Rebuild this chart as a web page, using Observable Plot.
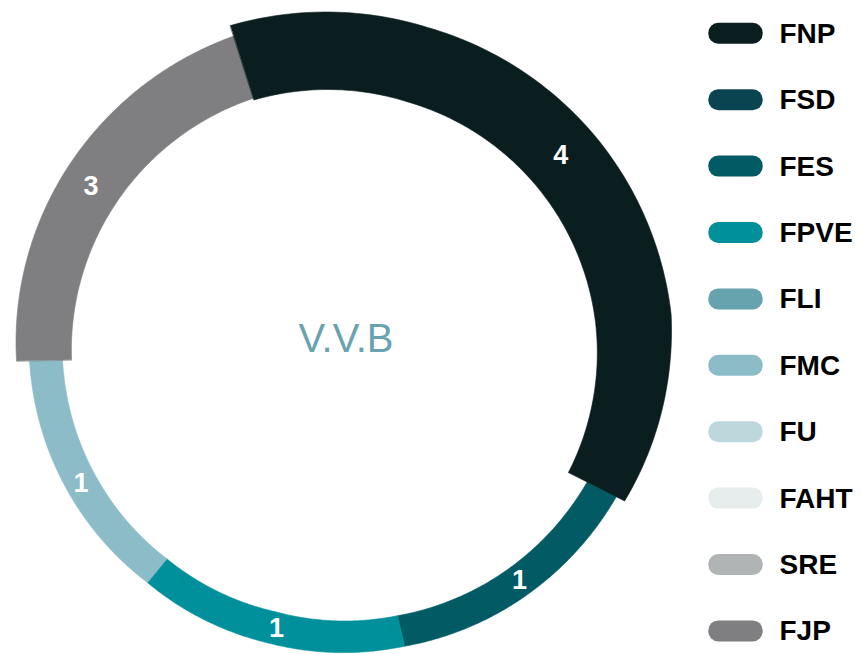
<!DOCTYPE html>
<html>
<head>
<meta charset="utf-8">
<script src="https://cdn.jsdelivr.net/npm/d3@7"></script>
<script src="https://cdn.jsdelivr.net/npm/@observablehq/plot@0.6"></script>
<style>
  html, body { margin: 0; padding: 0; background: #ffffff; overflow: hidden; }
  #chart svg { display: block; }
  #chart g[aria-label="legend-labels"] text { letter-spacing: 1.3px; }
</style>
</head>
<body>
<div id="chart"></div>
<script>
// ---- data ----
const categories = ["FNP", "FSD", "FES", "FPVE", "FLI", "FMC", "FU", "FAHT", "SRE", "FJP"];
const categoryColors = ["#0a1d1f", "#0b4451", "#025b64", "#00909c", "#67a3af", "#8cbcc8", "#bdd8dc", "#e7edec", "#b1b4b5", "#7f7f81"];
const sliceNames = ["FNP", "FES", "FPVE", "FMC", "FJP"];
const sliceValues = [4, 1, 1, 1, 3];
const sliceArcShares = [134.3, 49.7, 52.9, 49.4, 73.6]; // angular share of each slice
const centerTitle = "V.V.B";

// ---- geometry / styling ----
const W = 862, H = 654;
const CX = 334, CY = 354;
const START_DEG = -17.55;
const LABEL_ANGLE_SHIFT = -1.0 * Math.PI / 180;
const ringRadii = {
  FNP:  { inner: [267, 263, 263, 263, 262], outer: [345, 340, 340, 339, 325] },
  FES:  { inner: [283, 268.7], outer: [315.7, 300] },
  FPVE: { inner: [268.7, 264, 264.3], outer: [300, 296, 295] },
  FMC:  { inner: [264.3, 272], outer: [295, 305] },
  FJP:  { inner: [263, 268.7], outer: [318, 334] }
};
const drawOrder = ["FES", "FPVE", "FMC", "FJP", "FNP"];

function interp(arr, t) {
  if (arr.length === 1) return arr[0];
  const p = t * (arr.length - 1);
  const i = Math.min(arr.length - 2, Math.floor(p));
  const f = p - i;
  return arr[i] * (1 - f) + arr[i + 1] * f;
}

const startRad = START_DEG * Math.PI / 180;
const pie = d3.pie().sort(null).value((d, i) => sliceArcShares[i])
  .startAngle(startRad).endAngle(startRad + 2 * Math.PI);
const arcs = pie(sliceNames);

const ringPoints = [];
const labelData = [];
const N = 120;
drawOrder.forEach(name => {
  const idx = sliceNames.indexOf(name);
  const a = arcs[idx];
  const rr = ringRadii[name];
  for (let k = 0; k <= N; k++) {
    const t = k / N;
    const ang = a.startAngle + t * (a.endAngle - a.startAngle);
    const r = interp(rr.outer, t);
    ringPoints.push({ name, x: CX + r * Math.sin(ang), y: CY - r * Math.cos(ang) });
  }
  for (let k = N; k >= 0; k--) {
    const t = k / N;
    const ang = a.startAngle + t * (a.endAngle - a.startAngle);
    const r = interp(rr.inner, t);
    ringPoints.push({ name, x: CX + r * Math.sin(ang), y: CY - r * Math.cos(ang) });
  }
  const midAng = (a.startAngle + a.endAngle) / 2 + LABEL_ANGLE_SHIFT;
  const midR = (interp(rr.inner, 0.5) + interp(rr.outer, 0.5)) / 2;
  labelData.push({ name, value: sliceValues[idx], x: CX + midR * Math.sin(midAng), y: CY - midR * Math.cos(midAng) });
});

const ROW0 = 33.3, ROW_STEP = 66.4;
const legendData = categories.map((name, i) => ({ name, row: ROW0 + i * ROW_STEP }));

const fontFamily = "'Liberation Sans', Arial, Helvetica, sans-serif";

const chart = Plot.plot({
  width: W,
  height: H,
  margin: 0,
  x: { domain: [0, W], range: [0, W], axis: null },
  y: { domain: [0, H], range: [0, H], axis: null },
  color: { domain: categories, range: categoryColors },
  style: { background: "#ffffff", fontFamily },
  marks: [
    Plot.line(ringPoints, {
      x: "x", y: "y", z: "name", fill: "name",
      stroke: "name", strokeWidth: 0.6,
      curve: "linear-closed"
    }),
    Plot.text(labelData, {
      x: "x", y: "y", text: d => String(d.value),
      fill: "#ffffff", fontSize: 27, fontWeight: "bold", fontFamily
    }),
    Plot.text([centerTitle], {
      x: () => 345.5, y: () => 339, text: d => d,
      fill: "#6aa3b0", fontSize: 40, fontFamily
    }),
    Plot.rect(legendData, {
      x1: () => 708.3, x2: () => 762.7,
      y1: d => d.row - 10.5, y2: d => d.row + 10.5,
      fill: "name", rx: 10, ry: 10
    }),
    Plot.text(legendData, {
      x: () => 779, y: d => d.row, text: "name",
      textAnchor: "start", fill: "#000000",
      fontSize: 28, fontWeight: "bold", fontFamily,
      ariaLabel: "legend-labels"
    })
  ]
});

document.getElementById("chart").appendChild(chart);
</script>
</body>
</html>
